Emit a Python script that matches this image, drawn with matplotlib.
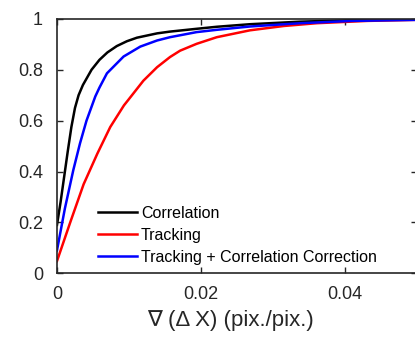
import numpy as np
import matplotlib
matplotlib.use("Agg")
import matplotlib.pyplot as plt

# values
x_corr = [0, 0.0005, 0.001, 0.0015, 0.002, 0.0025, 0.003, 0.0036, 0.0042, 0.0048, 0.0059, 0.007,
          0.0083, 0.0097, 0.0111, 0.0139, 0.0157, 0.0194, 0.0222, 0.0268, 0.0338, 0.041, 0.05]
y_corr = [0.19, 0.28, 0.38, 0.48, 0.575, 0.65, 0.70, 0.74, 0.77, 0.80, 0.839, 0.868,
          0.893, 0.912, 0.926, 0.943, 0.95, 0.961, 0.969, 0.979, 0.989, 0.995, 0.999]

x_track = [0, 0.0019, 0.0037, 0.0056, 0.0074, 0.0093, 0.01, 0.012, 0.0139, 0.0157, 0.0171, 0.0194,
           0.0222, 0.0268, 0.0315, 0.0361, 0.0431, 0.0496]
y_track = [0.048, 0.205, 0.35, 0.47, 0.575, 0.66, 0.685, 0.757, 0.81, 0.85, 0.875, 0.902,
           0.928, 0.955, 0.972, 0.983, 0.992, 0.996]

x_comb = [0, 0.0011, 0.00227, 0.0032, 0.0041, 0.00532, 0.0059, 0.00694, 0.00925, 0.01157, 0.0139,
          0.0157, 0.0194, 0.0222, 0.0268, 0.0338, 0.041, 0.0496]
y_comb = [0.09, 0.255, 0.406, 0.511, 0.60, 0.695, 0.73, 0.786, 0.852, 0.891, 0.915,
          0.928, 0.948, 0.957, 0.97, 0.983, 0.992, 0.996]

labels = ['Correlation', 'Tracking', 'Tracking + Correlation Correction']

plt.rcParams['font.family'] = ['Liberation Sans', 'DejaVu Sans']

fig = plt.figure(figsize=(4.15, 3.37), dpi=100)
ax = fig.add_axes([0.1373, 0.189, 0.8675, 0.755])

ax.plot(x_corr, y_corr, color='black', lw=1.8, label=labels[0])
ax.plot(x_track, y_track, color='red', lw=1.8, label=labels[1])
ax.plot(x_comb, y_comb, color='blue', lw=1.8, label=labels[2])

ax.set_xlim(0, 0.05)
ax.set_ylim(0, 1)
ax.set_xticks([0, 0.02, 0.04])
ax.set_xticklabels(['0', '0.02', '0.04'])
ax.set_yticks([0, 0.2, 0.4, 0.6, 0.8, 1])
ax.set_yticklabels(['0', '0.2', '0.4', '0.6', '0.8', '1'])
ax.tick_params(direction='in', top=True, right=True, labelsize=13, length=4, width=1, colors='#262626')
ax.tick_params(axis='x', pad=9)
ax.tick_params(axis='y', pad=10)
for s in ax.spines.values():
    s.set_color('#262626')
    s.set_linewidth(1.2)

ax.set_xlabel('∇ (Δ X) (pix./pix.)', fontsize=16, color='#262626')
ax.xaxis.label.set_va('center')
ax.xaxis.set_label_coords(0.483, -0.184)

ax.legend(loc='lower left', bbox_to_anchor=(0.085, -0.008), frameon=False, fontsize=11.5,
          handlelength=2.45, handletextpad=0.25, labelspacing=0.45, borderaxespad=0.25)

fig.savefig('out.png', dpi=100)
